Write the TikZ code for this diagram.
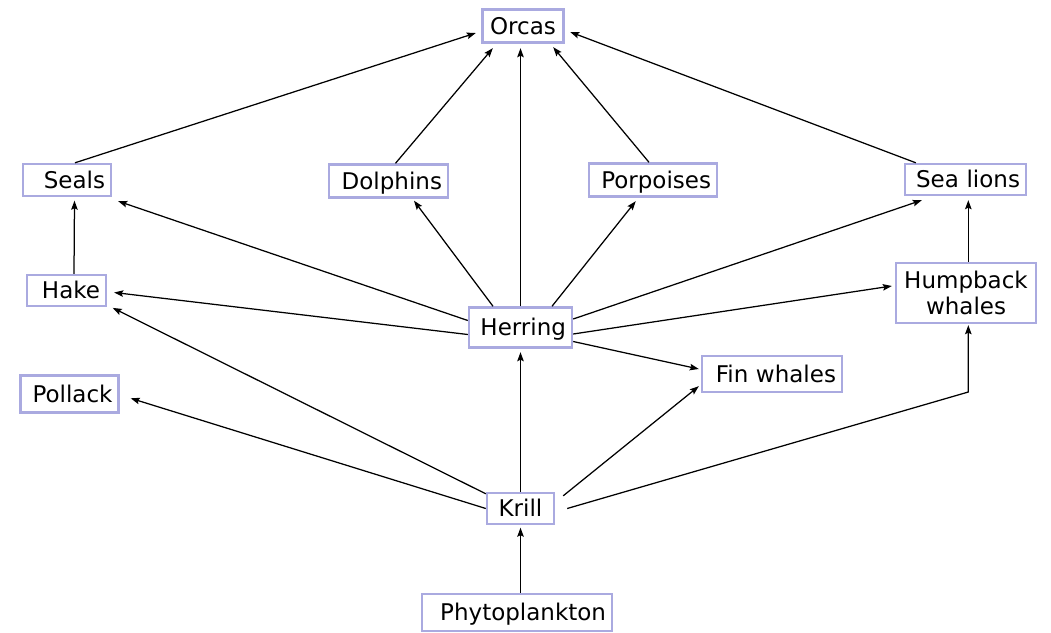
\documentclass[tikz,border=0pt]{standalone}
\usepackage{fontspec}
\setmainfont{DejaVu Sans}
\usetikzlibrary{arrows.meta,calc}
\definecolor{boxc}{RGB}{170,170,224}
\begin{document}
\begin{tikzpicture}[x=1pt,y=-1pt,
  box/.style={draw=boxc, line width=2.4pt, inner xsep=6pt, inner ysep=0pt,
    align=right, text height=20pt, text depth=3.2pt,
    font=\fontsize{23}{26}\selectfont},
  arr/.style={-{Stealth[length=9pt,width=6.5pt,inset=1.5pt]}, line width=1.25pt}]
\useasboundingbox (0,0) rectangle (1051,632);
% nodes
\node[box, align=center, text width=69pt, minimum height=33pt] (orcas) at (523,26) {Orcas};
\node[box, text width=76pt, minimum height=32pt] (seals) at (67,180) {Seals};
\node[box, text width=107pt, minimum height=33pt] (dolphins) at (388.5,181) {Dolphins};
\node[box, text width=116pt, minimum height=33pt] (porpoises) at (653,180) {Porpoises};
\node[box, text width=109pt, minimum height=31pt] (sealions) at (965.5,179.5) {Sea lions};
\node[box, text width=67pt, minimum height=31pt] (hake) at (66.5,290.5) {Hake};
\node[box, align=center, text width=128pt, text depth=29.2pt, minimum height=60pt] (humpback) at (966,293) {Humpback\\whales};
\node[box, text width=91pt, minimum height=40pt] (herring) at (520.5,327.5) {Herring};
\node[box, text width=128pt, minimum height=36pt] (fin) at (772,374) {Fin whales};
\node[box, text width=86pt, minimum height=37pt] (pollack) at (69.5,394) {Pollack};
\node[box, align=center, text width=55pt, minimum height=31pt] (krill) at (520.5,508.5) {Krill};
\node[box, text width=178pt, minimum height=37pt] (phyto) at (517,612.5) {Phytoplankton};
\coordinate (hb) at (968.3,392);
% to orcas
\draw[arr] ([xshift=8pt]seals.north) -- ([xshift=-5.5pt,yshift=-7pt]orcas.west);
\draw[arr] ([xshift=7pt]dolphins.north) -- ([xshift=11.5pt,yshift=-4.5pt]orcas.south west);
\draw[arr] (herring.north) -- ($(herring.north |- orcas.south)+(0,4.5)$);
\draw[arr] ([xshift=-4pt]porpoises.north) -- ([xshift=-11.5pt,yshift=-3.5pt]orcas.south east);
\draw[arr] ([xshift=12pt]sealions.north west) -- ([xshift=5.5pt,yshift=-6pt]orcas.east);
% from herring
\draw[arr] ([yshift=7pt]herring.west) -- ([xshift=6pt,yshift=-4pt]seals.south east);
\draw[arr] ([xshift=-27.5pt]herring.north) -- ([xshift=25.5pt,yshift=-2pt]dolphins.south);
\draw[arr] ([xshift=31.5pt]herring.north) -- ([xshift=-17.3pt,yshift=-3.5pt]porpoises.south);
\draw[arr] ([yshift=8.5pt]herring.east) -- ([xshift=18pt,yshift=-4pt]sealions.south west);
\draw[arr] ([yshift=-7pt]herring.west) -- ([xshift=7pt,yshift=-2pt]hake.east);
\draw[arr] ([yshift=-6.5pt]herring.east) -- ([xshift=-3pt,yshift=7pt]humpback.west);
\draw[arr] ([yshift=-14pt]herring.east) -- ([xshift=-2pt,yshift=5pt]fin.west);
% vertical
\draw[arr] ([xshift=7.5pt]hake.north) -- ([xshift=7.5pt,yshift=-3.5pt]seals.south);
\draw[arr] ([xshift=2.3pt]humpback.north) -- ([xshift=2.8pt,yshift=-4pt]sealions.south);
% from krill
\draw[arr] (krill.north) -- ([yshift=-3.5pt]herring.south);
\draw[arr] ([yshift=-2pt]krill.north west) -- ([xshift=5.5pt,yshift=-0.7pt]hake.south east);
\draw[arr] (krill.west) -- ([xshift=11pt,yshift=-4.3pt]pollack.east);
\draw[arr] ([xshift=8pt,yshift=-4pt]krill.north east) -- ([xshift=-2pt,yshift=7pt]fin.south west);
\draw[arr] ([xshift=12pt]krill.east) -- (hb) -- ([xshift=2.3pt,yshift=-1pt]humpback.south);
% phytoplankton
\draw[arr] ($(krill.south |- phyto.north)$) -- ([yshift=-2.5pt]krill.south);
\end{tikzpicture}
\end{document}
